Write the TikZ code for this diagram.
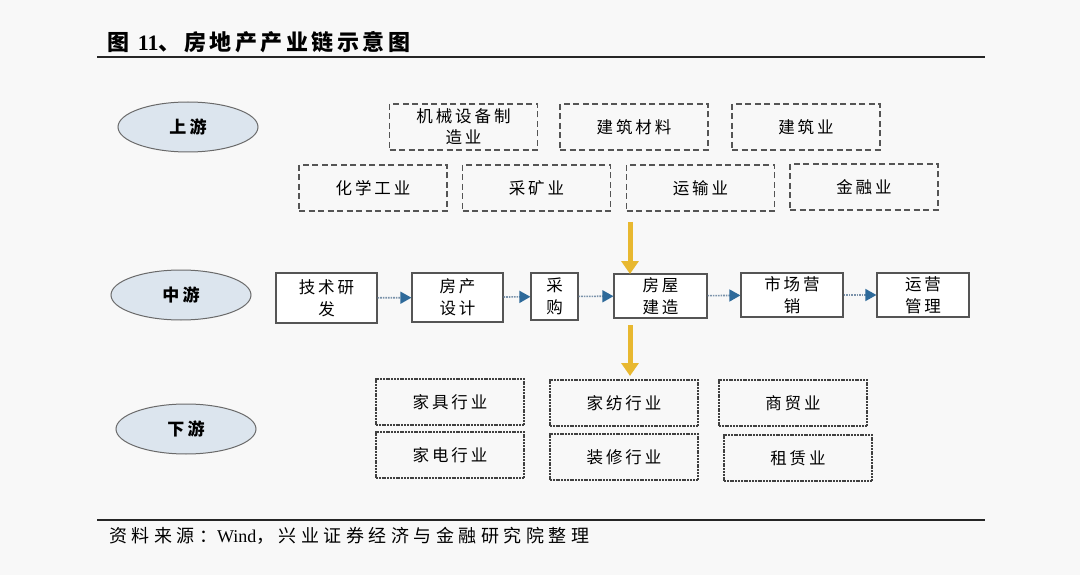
\documentclass[tikz,border=0pt]{standalone}
\usepackage{fontspec}
\setmainfont{Liberation Serif}
\newfontfamily\cjk[LetterSpace=18]{Noto Sans CJK SC}
\newfontfamily\cjkt[LetterSpace=16]{Noto Sans CJK SC}
\newfontfamily\cjks[LetterSpace=25]{Noto Sans CJK SC}
\newfontfamily\lat{Liberation Serif}
\usetikzlibrary{arrows.meta,calc,shapes.geometric}
\definecolor{bg}{HTML}{F8F8F8}
\definecolor{ellfill}{HTML}{DCE5EE}
\definecolor{ellline}{HTML}{6A6A6A}
\definecolor{boxline}{HTML}{555555}
\definecolor{arrblue}{HTML}{2E6A9A}
\definecolor{dotline}{HTML}{7A92AA}
\definecolor{yel}{HTML}{E8B830}
\tikzset{
  ell/.style={ellipse, draw=ellline, line width=1pt, fill=ellfill, minimum width=140pt, minimum height=50pt, inner sep=0pt, font=\cjk\bfseries\fontsize{17}{17}\selectfont},
  upbox/.style={draw=boxline, dash pattern=on 6pt off 3.5pt, line width=1.3pt, minimum width=148pt, minimum height=46pt, inner sep=0pt, align=center, font=\cjk\fontsize{16.5}{21}\selectfont},
  midbox/.style={draw=boxline, line width=1.2pt, fill=white, inner sep=0pt, align=center, font=\cjk\fontsize{16.5}{22}\selectfont},
  downbox/.style={draw=black!75, dash pattern=on 2pt off 0.8pt, line width=2pt, minimum width=148pt, minimum height=46pt, inner sep=0pt, align=center, font=\cjk\fontsize{16.5}{21}\selectfont},
  flow/.style={draw=dotline, densely dotted, line width=1.6pt, -{Triangle[length=11pt,width=12pt,fill=arrblue,color=arrblue]}},
  yarrow/.style={draw=yel, line width=5pt, -{Triangle[length=13pt,width=17pt,color=yel]}},
  rule/.style={draw=black!85, line width=1.2pt}
}
\begin{document}
\begin{tikzpicture}[x=1pt,y=-1pt]
\useasboundingbox (0,0) rectangle (1080,575);
\fill[bg] (0,0) rectangle (1080,575);

% title
\node[anchor=west, inner sep=0pt, font=\cjkt\bfseries\fontsize{22}{22}\selectfont] (title) at (107,42) {图 {\lat\bfseries 11}、房地产产业链示意图};
\coordinate (tl1) at (97,57);
\coordinate (tl2) at (985,57);
\draw[rule] (tl1) -- (tl2);

% ellipses
\node[ell] (sy) at (188,127) {上游};
\node[ell] (zy) at (181,295) {中游};
\node[ell] (xy) at (186,429) {下游};

% upstream
\node[upbox] (u1) at (463.5,127) {机械设备制\\造业};
\node[upbox] (u2) at (634,127) {建筑材料};
\node[upbox] (u3) at (806,127) {建筑业};
\node[upbox] (u4) at (373,188) {化学工业};
\node[upbox] (u5) at (536.5,188) {采矿业};
\node[upbox] (u6) at (700.5,188) {运输业};
\node[upbox] (u7) at (864,187) {金融业};

% midstream
\node[midbox, minimum width=101pt, minimum height=50pt] (m1) at (326.5,298) {技术研\\发};
\node[midbox, minimum width=91pt, minimum height=49pt] (m2) at (457.5,297.5) {房产\\设计};
\node[midbox, minimum width=47pt, minimum height=47pt] (m3) at (554.5,296.5) {采\\购};
\node[midbox, minimum width=93pt, minimum height=44pt] (m4) at (660.5,296) {房屋\\建造};
\node[midbox, minimum width=102pt, minimum height=44pt] (m5) at (792,295) {市场营\\销};
\node[midbox, minimum width=92pt, minimum height=44pt] (m6) at (923,295) {运营\\管理};

\draw[flow] (m1) -- (m2);
\draw[flow] (m2) -- (m3);
\draw[flow] (m3) -- (m4);
\draw[flow] (m4) -- (m5);
\draw[flow] (m5) -- (m6);

% yellow arrows
\coordinate (ya1) at (630,222);
\coordinate (ya2) at (630,274);
\coordinate (yb1) at (630,325);
\coordinate (yb2) at (630,376);
\draw[yarrow] (ya1) -- (ya2);
\draw[yarrow] (yb1) -- (yb2);

% downstream
\node[downbox] (d1) at (450,402) {家具行业};
\node[downbox] (d2) at (450,455) {家电行业};
\node[downbox] (d3) at (624,403) {家纺行业};
\node[downbox] (d4) at (624,457) {装修行业};
\node[downbox] (d5) at (793,403) {商贸业};
\node[downbox] (d6) at (798,458) {租赁业};

% bottom rule and source
\coordinate (bl1) at (97,520);
\coordinate (bl2) at (985,520);
\draw[rule] (bl1) -- (bl2);
\node[anchor=west, inner sep=0pt, font=\cjks\fontsize{18}{18}\selectfont] (src) at (109,536) {资料来源：{\lat Wind}，兴业证券经济与金融研究院整理};
\end{tikzpicture}
\end{document}
